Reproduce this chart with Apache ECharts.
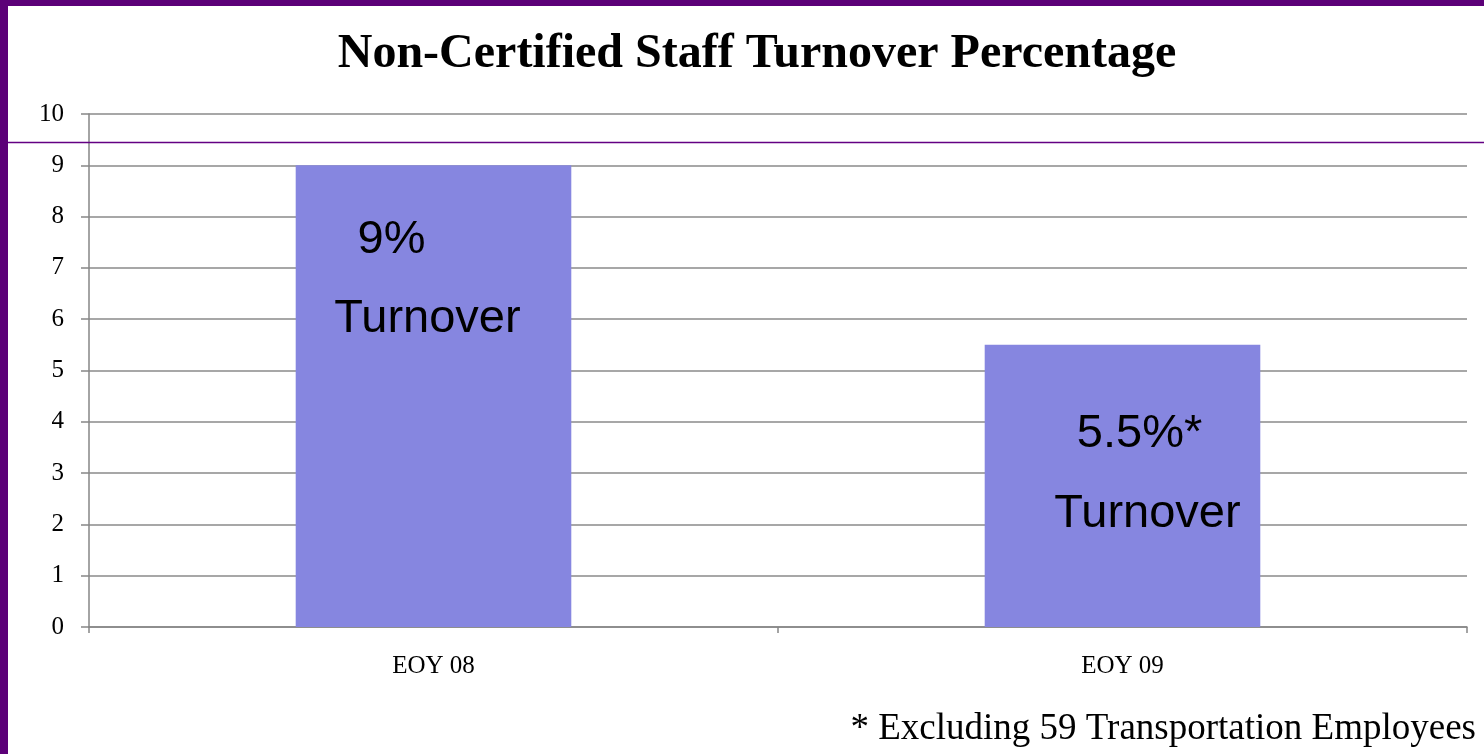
<!DOCTYPE html>
<html>
<head>
<meta charset="utf-8">
<script src="https://cdn.jsdelivr.net/npm/echarts@6/dist/echarts.min.js"></script>
<style>
  html, body { margin: 0; padding: 0; background: #ffffff; }
  #chart { width: 1484px; height: 754px; }
</style>
</head>
<body>
<div id="chart"></div>
<script>
// Chart data
const categories = ['EOY 08', 'EOY 09'];
const turnoverPct = [9, 5.5];
const pctSuffix = ['%', '%*'];
const captionWord = 'Turnover';
const yAxisMin = 0;
const yAxisMax = 10;
const yAxisStep = 1;
const chartTitle = 'Non-Certified Staff Turnover Percentage';
const footnote = '* Excluding 59 Transportation Employees';

// Placement of the in-bar captions relative to each bar's top centre: [dxPct, dyPct, dxWord, dyWord]
const captionOffsets = [[-42, 75, -6, 154], [17, 89, 25, 169]];

const PURPLE = '#5c0078';
const SERIF = '"Liberation Serif", "Times New Roman", serif';
const SANS = '"Liberation Sans", Arial, sans-serif';

const chart = echarts.init(document.getElementById('chart'), null, { renderer: 'canvas' });

chart.setOption({
  backgroundColor: '#ffffff',
  animation: false,
  grid: { left: 89, right: 17, top: 114, bottom: 127, containLabel: false },
  xAxis: {
    type: 'category',
    data: categories,
    axisLine: { lineStyle: { color: '#868686', width: 1.5 } },
    axisTick: { show: true, length: 6, lineStyle: { color: '#868686', width: 1.5 } },
    axisLabel: { color: '#000', fontFamily: SERIF, fontSize: 25, margin: 27 }
  },
  yAxis: {
    type: 'value',
    min: yAxisMin,
    max: yAxisMax,
    interval: yAxisStep,
    axisLine: { show: true, lineStyle: { color: '#868686', width: 1.5 } },
    axisTick: { show: true, length: 8, lineStyle: { color: '#868686', width: 1.5 } },
    axisLabel: { color: '#000', fontFamily: SERIF, fontSize: 25, margin: 25 },
    splitLine: { show: true, lineStyle: { color: '#8a8a8a', width: 1.5 } }
  },
  series: [{
    type: 'bar',
    data: turnoverPct,
    barWidth: '40%',
    itemStyle: { color: '#8686e0' },
    emphasis: { disabled: true }
  }]
});

// Frame, title, footnote and captions placed on top of the plot
const graphics = [
  { id: 'frameLeft', type: 'rect', z: 200, shape: { x: 0, y: 0, width: 8, height: 754 }, style: { fill: PURPLE } },
  { id: 'frameTop', type: 'rect', z: 200, shape: { x: 0, y: 0, width: 1484, height: 6 }, style: { fill: PURPLE } },
  { id: 'rule', type: 'line', z: 200, shape: { x1: 8, y1: 142.5, x2: 1484, y2: 142.5 }, style: { stroke: '#630083', lineWidth: 1.5 } },
  {
    id: 'title', type: 'text', z: 200, x: 757, y: 55,
    style: { text: chartTitle, fill: '#000', font: 'bold 48px ' + SERIF, textAlign: 'center', textVerticalAlign: 'middle' }
  },
  {
    id: 'note', type: 'text', z: 200, x: 1476, y: 729,
    style: { text: footnote, fill: '#000', font: '37px ' + SERIF, textAlign: 'right', textVerticalAlign: 'middle' }
  }
];

turnoverPct.forEach((v, i) => {
  const top = chart.convertToPixel({ seriesIndex: 0 }, [i, v]);
  const off = captionOffsets[i];
  graphics.push({
    id: 'pct' + i, type: 'text', z: 150, x: top[0] + off[0], y: top[1] + off[1],
    style: { text: v + pctSuffix[i], fill: '#000', font: '47px ' + SANS, textAlign: 'center', textVerticalAlign: 'middle' }
  });
  graphics.push({
    id: 'word' + i, type: 'text', z: 150, x: top[0] + off[2], y: top[1] + off[3],
    style: { text: captionWord, fill: '#000', font: '47px ' + SANS, textAlign: 'center', textVerticalAlign: 'middle' }
  });
});

chart.setOption({ graphic: graphics });
</script>
</body>
</html>
